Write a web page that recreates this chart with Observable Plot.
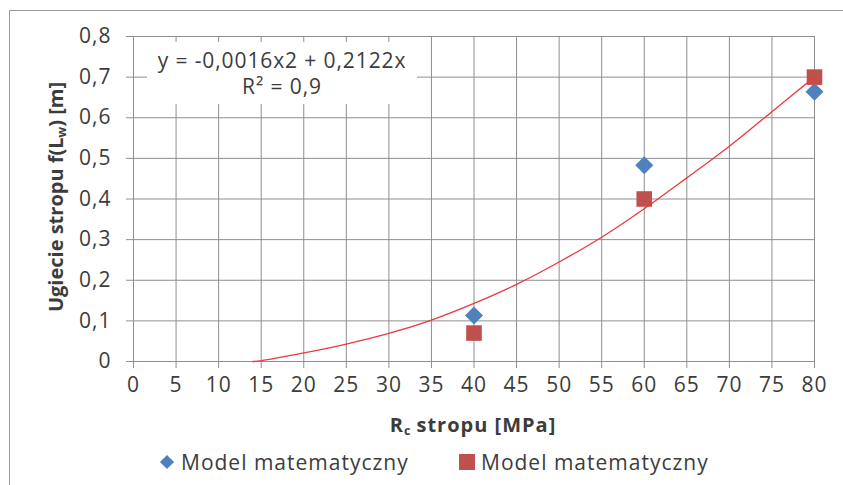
<!DOCTYPE html>
<html>
<head>
<meta charset="utf-8">
<script src="https://cdn.jsdelivr.net/npm/d3@7"></script>
<script src="https://cdn.jsdelivr.net/npm/@observablehq/plot@0.6"></script>
<style>
  html, body { margin: 0; padding: 0; background: #fff; }
  body { width: 843px; height: 485px; overflow: hidden; position: relative; font-family: "Open Sans", sans-serif; color: #3c3c3c; }
  #frame { position: absolute; left: 9px; top: 10px; width: 900px; height: 600px; border: 1px solid #9a9a9a; box-sizing: border-box; }
  #chart { position: absolute; left: 0; top: 0; }
  #eq { position: absolute; left: 147px; top: 42px; width: 270px; height: 62px; background: #fff; text-align: center; font-size: 21px; letter-spacing: 0.9px; line-height: 26px; padding-top: 5px; box-sizing: border-box; white-space: nowrap; }
  #ylab { position: absolute; left: 56px; top: 197px; transform: translate(-50%, -50%) rotate(-90deg); white-space: nowrap; font-weight: bold; font-size: 20px; }
  #xlab { position: absolute; left: 473px; top: 425px; transform: translate(-50%, -50%); white-space: nowrap; font-weight: bold; font-size: 20px; letter-spacing: 1px; }
  sub { font-size: 0.62em; vertical-align: -0.25em; letter-spacing: 0; }
  #legend { position: absolute; top: 449px; left: 0; width: 843px; font-size: 21px; letter-spacing: 1px; }
  .item { position: absolute; top: 0; white-space: nowrap; line-height: 26px; }
  .sw { display: inline-block; vertical-align: -1px; margin-right: 5px; }
</style>
</head>
<body>
<div id="frame"></div>
<div id="chart"></div>
<div id="eq">y = -0,0016x2 + 0,2122x<br>R² = 0,9</div>
<div id="ylab">Ugiecie stropu f(L<sub>w</sub>) [m]</div>
<div id="xlab">R<sub>c</sub> stropu [MPa]</div>
<div id="legend"></div>
<script>
// Axis ticks and their labels
const xTicks = [0, 5, 10, 15, 20, 25, 30, 35, 40, 45, 50, 55, 60, 65, 70, 75, 80];
const yTicks = [0, 0.1, 0.2, 0.3, 0.4, 0.5, 0.6, 0.7, 0.8];
const yTickLabels = ["0", "0,1", "0,2", "0,3", "0,4", "0,5", "0,6", "0,7", "0,8"];

// Measured points (Rc stropu [MPa] -> ugiecie [m])
const rc = [40, 60, 80];
const seriesBlue = [0.113, 0.483, 0.664];
const seriesRed = [0.07, 0.40, 0.70];

// Trend line (polynomial fit)
const trendX = [14, 15, 20, 25, 30, 35, 40, 45, 50, 55, 60, 65, 70, 75, 80];
const trendY = [0, 0.002, 0.021, 0.043, 0.069, 0.102, 0.143, 0.19, 0.245, 0.306, 0.376, 0.452, 0.53, 0.615, 0.70];

const legendNames = ["Model matematyczny", "Model matematyczny"];
const colors = ["#4f81bd", "#c0504d"];

const blueData = rc.map((x, i) => ({x, y: seriesBlue[i]}));
const redData = rc.map((x, i) => ({x, y: seriesRed[i]}));
const trend = trendX.map((x, i) => ({x, y: trendY[i]}));

const grid = "#8f8f8f";

const chart = Plot.plot({
  width: 843,
  height: 440,
  marginLeft: 133,
  marginRight: 29,
  marginTop: 36,
  marginBottom: 79,
  x: {domain: [0, 80]},
  y: {domain: [0, 0.8]},
  style: {fontFamily: "Open Sans", fontSize: "21px", letterSpacing: "1px", background: "transparent", overflow: "visible"},
  marks: [
    Plot.gridX(xTicks, {stroke: grid, strokeOpacity: 1, strokeWidth: 1}),
    Plot.gridY(yTicks, {stroke: grid, strokeOpacity: 1, strokeWidth: 1}),
    Plot.axisX(xTicks, {anchor: "bottom", tickSize: 7, tickPadding: 9, stroke: grid, fill: "#3c3c3c", label: null, tickFormat: d => String(d)}),
    Plot.axisY(yTicks, {anchor: "left", tickSize: 7, tickPadding: 15, stroke: grid, fill: "#3c3c3c", label: null, tickFormat: (d, i) => yTickLabels[i]}),
    Plot.dot(blueData, {x: "x", y: "y", symbol: "square", rotate: 45, r: 7.2, fill: colors[0], stroke: null}),
    Plot.dot(redData, {x: "x", y: "y", symbol: "square", r: 8.8, fill: colors[1], stroke: null}),
    Plot.line(trend, {x: "x", y: "y", curve: "catmull-rom", stroke: "#e83a3f", strokeWidth: 1.3})
  ]
});
document.getElementById("chart").appendChild(chart);

// Legend below the plot
const legend = document.getElementById("legend");
const positions = [158, 458];
legendNames.forEach((name, i) => {
  const item = document.createElement("div");
  item.className = "item";
  item.style.left = positions[i] + "px";
  const sw = i === 0
    ? `<svg class="sw" width="18" height="18"><rect x="4" y="4" width="10" height="10" fill="${colors[0]}" transform="rotate(45 9 9)"/></svg>`
    : `<svg class="sw" width="18" height="18"><rect x="1" y="1" width="16" height="16" fill="${colors[1]}"/></svg>`;
  item.innerHTML = sw + name;
  legend.appendChild(item);
});
</script>
</body>
</html>
